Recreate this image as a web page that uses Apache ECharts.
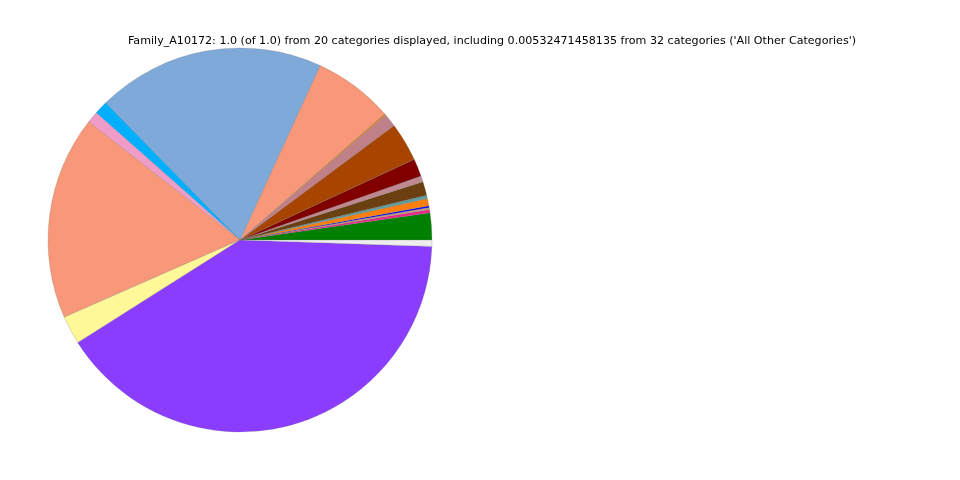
<!DOCTYPE html>
<html>
<head>
<meta charset="utf-8">
<script src="https://cdn.jsdelivr.net/npm/echarts@6/dist/echarts.min.js"></script>
<style>html,body{margin:0;padding:0;background:#fff}#c{width:960px;height:480px}</style>
</head>
<body>
<div id="c"></div>
<script>
const titleText = "Family_A10172: 1.0 (of 1.0) from 20 categories displayed, including 0.00532471458135 from 32 categories ('All Other Categories')";
const categories = ["c01","c02","c03","c04","c05","c06","c07","c08","c09","c10","c11","c12","c13","c14","c15","c16","c17","c18","c19","All Other Categories"];
const values = [0.0226,0.0028,0.0017,0.0014,0.0061,0.0028,0.0117,0.0050,0.0149,0.0328,0.0111,0.0014,0.0672,0.1919,0.0114,0.0097,0.1714,0.0239,0.4049,0.00532471458135];
const colors = ["#008000","#e8288a","#c8a07a","#0000ff","#ff7f0e","#5f9ea0","#6b4010","#c08890","#800000","#a64400","#c08088","#e08020","#f89878","#7ea9d9","#00b0ff","#f09cc8","#f89878","#fff899","#8b3dff","#eeeeee"];

const chart = echarts.init(document.getElementById('c'), null, {renderer:'canvas'});
chart.setOption({
  animation: false,
  title: {
    text: titleText,
    left: 123, top: 31,
    textStyle: {fontFamily: 'DejaVu Sans', fontSize: 11.1, fontWeight: 'normal', color: '#000'}
  },
  series: [{
    type: 'pie',
    center: [240, 240],
    radius: 192,
    startAngle: 0,
    clockwise: false,
    avoidLabelOverlap: false,
    label: {show: false},
    labelLine: {show: false},
    emphasis: {disabled: true},
    itemStyle: {borderColor: 'rgba(110,110,110,0.6)', borderWidth: 0.4},
    data: categories.map((n, i) => ({name: n, value: values[i], itemStyle: {color: colors[i]}}))
  }]
});
</script>
</body>
</html>
